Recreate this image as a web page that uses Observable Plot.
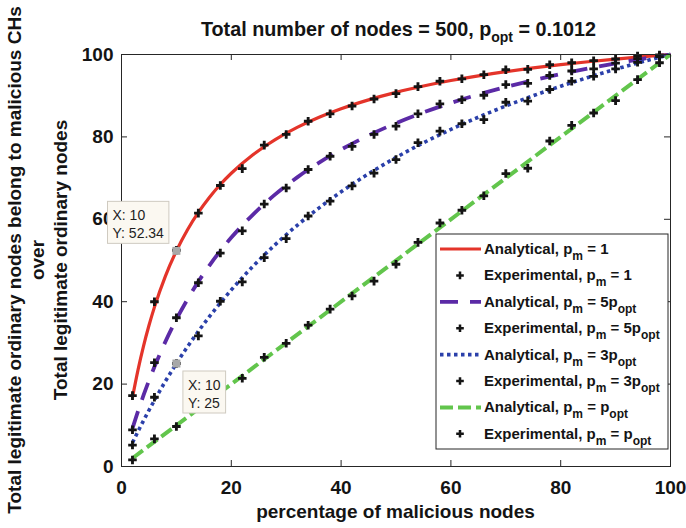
<!DOCTYPE html>
<html><head><meta charset="utf-8">
<script src="https://cdn.jsdelivr.net/npm/d3@7"></script>
<script src="https://cdn.jsdelivr.net/npm/@observablehq/plot@0.6"></script>
<style>
html,body{margin:0;padding:0;background:#fff;}
#chart{width:686px;height:528px;position:relative;}
</style></head><body><div id="chart"></div>
<script>
// ---------- data ----------
const xTicks = [0, 20, 40, 60, 80, 100];
const yTicks = [0, 20, 40, 60, 80, 100];

// analytical curves
const aX    = [2,3,4,5,6,8,10,12,14,16,18,20,24,28,32,36,40,45,50,55,60,65,70,75,80,85,90,95,100];
const aPm1  = [16.78,23.41,29.16,34.21,38.68,46.22,52.33,57.40,61.67,65.30,68.45,71.18,75.73,79.35,82.30,84.75,86.82,88.99,90.81,92.35,93.68,94.83,95.84,96.74,97.53,98.24,98.89,99.47,100];
const aPm5  = [9.26,13.39,17.24,20.83,24.19,30.30,35.71,40.54,44.87,48.78,52.33,55.56,61.22,66.04,70.18,73.77,76.92,80.36,83.33,85.94,88.24,90.28,92.11,93.75,95.24,96.59,97.83,98.96,100];
const aPm3  = [5.77,8.49,11.11,13.64,16.07,20.69,25.00,29.03,32.81,36.36,39.71,42.86,48.65,53.85,58.54,62.79,66.67,71.05,75.00,78.57,81.82,84.78,87.50,90.00,92.31,94.44,96.43,98.28,100];
const aXopt = [2, 100];
const aPmOpt = [2, 100];

// experimental points
const eX    = [2,6,10,14,18,22,26,30,34,38,42,46,50,54,58,62,66,70,74,78,82,86,90,94,98];
const ePm1  = [17.2,40.0,52.5,61.5,68.2,72.3,78.0,80.6,83.8,85.6,87.5,89.2,90.5,92.2,93.5,94.1,95.1,96.3,96.4,97.5,98.0,98.5,98.9,99.6,99.9];
const ePm5  = [8.9,25.2,36.1,44.6,51.8,57.2,63.7,67.6,72.1,75.3,77.7,80.6,82.6,85.6,88.0,89.0,90.1,92.7,93.0,94.9,96.0,96.5,97.9,99.0,99.7];
const ePm3  = [5.2,16.8,25.0,31.7,40.1,44.8,50.7,55.3,60.8,64.4,68.1,71.2,74.5,78.6,81.4,83.2,84.2,88.4,88.7,91.5,93.5,94.7,96.5,98.1,99.5];
const ePmOpt= [1.6,6.7,9.7,14.0,18.0,21.4,26.5,29.9,34.3,38.2,41.4,45.0,49.1,54.4,59.1,62.2,65.7,71.1,72.4,79.0,82.8,85.8,88.8,93.9,98.0];

// data tips
const tipX = [10, 10];
const tipY = [52.34, 25];

// text
const titleParts = ["Total number of nodes = 500, p", "opt", " = 0.1012"];
const xLabel = "percentage of malicious nodes";
const yLabelLines = ["Total legitimate ordinary nodes belong to malicious CHs", "over", "Total legitimate ordinary nodes"];
const legendParts = [
  ["Analytical, p", "m", " = 1"],
  ["Experimental, p", "m", " = 1"],
  ["Analytical, p", "m", " = 5p", "opt"],
  ["Experimental, p", "m", " = 5p", "opt"],
  ["Analytical, p", "m", " = 3p", "opt"],
  ["Experimental, p", "m", " = 3p", "opt"],
  ["Analytical, p", "m", " = p", "opt"],
  ["Experimental, p", "m", " = p", "opt"]
];

// ---------- styles ----------
const FONT = "'Liberation Sans', Arial, Helvetica, sans-serif";
const RED = "#e4342a", PURPLE = "#5b2aa6", BLUE = "#2b40aa", GREEN = "#62c54c", INK = "#141414", AXIS = "#262626";
const styles = [
  {stroke: RED, width: 3.2, dash: null},
  {stroke: PURPLE, width: 3.8, dash: "18,12"},
  {stroke: BLUE, width: 3.6, dash: "3.5,3.5"},
  {stroke: GREEN, width: 4, dash: "13,5"}
];

const toRows = (xs, ys) => xs.map((x, i) => ({x, y: ys[i]}));
const analytic = [toRows(aX, aPm1), toRows(aX, aPm5), toRows(aX, aPm3), toRows(aXopt, aPmOpt)];
const experimental = [toRows(eX, ePm1), toRows(eX, ePm5), toRows(eX, ePm3), toRows(eX, ePmOpt)];
const tips = toRows(tipX, tipY);

const W = 686, H = 528, ML = 121, MR = 16, MT = 54, MB = 62;
const FW = W - ML - MR, FH = H - MT - MB;

const marks = [];
styles.forEach((s, k) => {
  marks.push(Plot.line(analytic[k], {x: "x", y: "y", stroke: s.stroke, strokeWidth: s.width,
    strokeDasharray: s.dash || undefined, strokeLinecap: "butt", strokeLinejoin: "round", curve: "monotone-x"}));
  marks.push(Plot.dot(experimental[k], {x: "x", y: "y", symbol: "cross", r: 3.6, fill: INK, stroke: "none"}));
});
marks.push(Plot.dot(tips, {x: "x", y: "y", symbol: d3.symbolSquare, r: 4.5, fill: "#a8a8a8", stroke: "none"}));
// inward ticks on all four sides
marks.push(Plot.tickX(xTicks, {x: d => d, stroke: AXIS, insetTop: FH - 6}));
marks.push(Plot.tickX(xTicks, {x: d => d, stroke: AXIS, insetBottom: FH - 6}));
marks.push(Plot.tickY(yTicks, {y: d => d, stroke: AXIS, insetRight: FW - 6}));
marks.push(Plot.tickY(yTicks, {y: d => d, stroke: AXIS, insetLeft: FW - 6}));
marks.push(Plot.frame({stroke: AXIS, strokeWidth: 1}));
marks.push(Plot.axisX({ticks: xTicks, tickSize: 0, tickPadding: 14, label: null, fontSize: 19, fontWeight: "bold", fill: INK}));
marks.push(Plot.axisY({ticks: yTicks, tickSize: 0, tickPadding: 8, label: null, fontSize: 19, fontWeight: "bold", fill: INK}));

const chart = Plot.plot({
  width: W, height: H,
  marginLeft: ML, marginRight: MR, marginTop: MT, marginBottom: MB,
  style: {fontFamily: FONT, fontSize: "19px", fontWeight: "bold", color: INK, background: "#fff", overflow: "visible"},
  x: {domain: [0, 100]},
  y: {domain: [0, 100]},
  marks
});
document.getElementById("chart").appendChild(chart);

// ---------- annotations ----------
const svg = d3.select(chart);
const xs = chart.scale("x"), ys = chart.scale("y");

function rich(t, parts, subSize, subDy) {
  parts.forEach((p, i) => {
    const ts = t.append("tspan").text(p);
    if (i % 2 === 1) ts.attr("font-size", subSize).attr("dy", subDy);
    else if (i > 0) ts.attr("dy", -subDy);
  });
}

// title
rich(svg.append("text").attr("x", ML + FW / 2 + 3).attr("y", 36).attr("text-anchor", "middle")
  .attr("font-family", FONT).attr("font-weight", "bold").attr("font-size", 19.8).attr("fill", INK),
  titleParts, 14, 6);

// x label
svg.append("text").attr("x", ML + FW / 2).attr("y", 518).attr("text-anchor", "middle")
  .attr("font-family", FONT).attr("font-weight", "bold").attr("font-size", 19).attr("fill", INK).text(xLabel);

// y label (three lines, rotated)
const yBase = [21, 44, 67];
yLabelLines.forEach((line, i) => {
  svg.append("text").attr("transform", `translate(${yBase[i]},${MT + FH / 2}) rotate(-90)`)
    .attr("text-anchor", "middle").attr("font-family", FONT).attr("font-weight", "bold")
    .attr("font-size", 19).attr("fill", INK).text(line);
});

// data tips
const tipLayer = svg.append("g").attr("font-family", FONT).attr("font-weight", "normal")
  .attr("font-size", 14).attr("fill", "#1e1e1e").attr("text-anchor", "start");
tips.forEach((d, i) => {
  const px = xs.apply(d.x), py = ys.apply(d.y);
  const g = tipLayer.append("g");
  const rect = g.append("rect").attr("fill", "#fbf8f1").attr("stroke", "#cfcac0").attr("stroke-width", 1);
  const t1 = g.append("text").attr("text-anchor", "start").text(`X: ${d.x}`);
  const t2 = g.append("text").attr("text-anchor", "start").text(`Y: ${d.y}`);
  const tw = Math.max(t1.node().getComputedTextLength(), t2.node().getComputedTextLength());
  const bw = tw + 10, bh = 42;
  let bx, by;
  if (i === 0) { bx = px - 7 - bw; by = py - 7 - bh; }
  else { bx = px + 7; by = py + 8; }
  rect.attr("x", bx).attr("y", by).attr("width", bw).attr("height", bh);
  t1.attr("x", bx + 5).attr("y", by + 19);
  t2.attr("x", bx + 5).attr("y", by + 37);
});

// legend
const LX = 436, LY = 234, LW = 232, LH = 215;
const lg = svg.append("g").attr("font-family", FONT).attr("font-weight", "bold")
  .attr("font-size", 15).attr("fill", INK).attr("text-anchor", "start");
lg.append("rect").attr("x", LX).attr("y", LY).attr("width", LW).attr("height", LH)
  .attr("fill", "#ffffff").attr("stroke", AXIS).attr("stroke-width", 1);
legendParts.forEach((parts, i) => {
  const cy = LY + 15 + i * 26.4;
  const s = styles[Math.floor(i / 2)];
  if (i % 2 === 0) {
    lg.append("line").attr("x1", LX + 4).attr("x2", LX + 45).attr("y1", cy).attr("y2", cy)
      .attr("stroke", s.stroke).attr("stroke-width", s.width).attr("stroke-dasharray", s.dash)
      .attr("stroke-linecap", "butt");
  } else {
    lg.append("path").attr("d", d3.symbol(d3.symbolCross, Math.PI * 3.2 * 3.2)())
      .attr("transform", `translate(${LX + 24},${cy})`).attr("fill", INK);
  }
  rich(lg.append("text").attr("text-anchor", "start").attr("x", LX + 48).attr("y", cy + 5), parts, 12, 6);
});
</script></body></html>
